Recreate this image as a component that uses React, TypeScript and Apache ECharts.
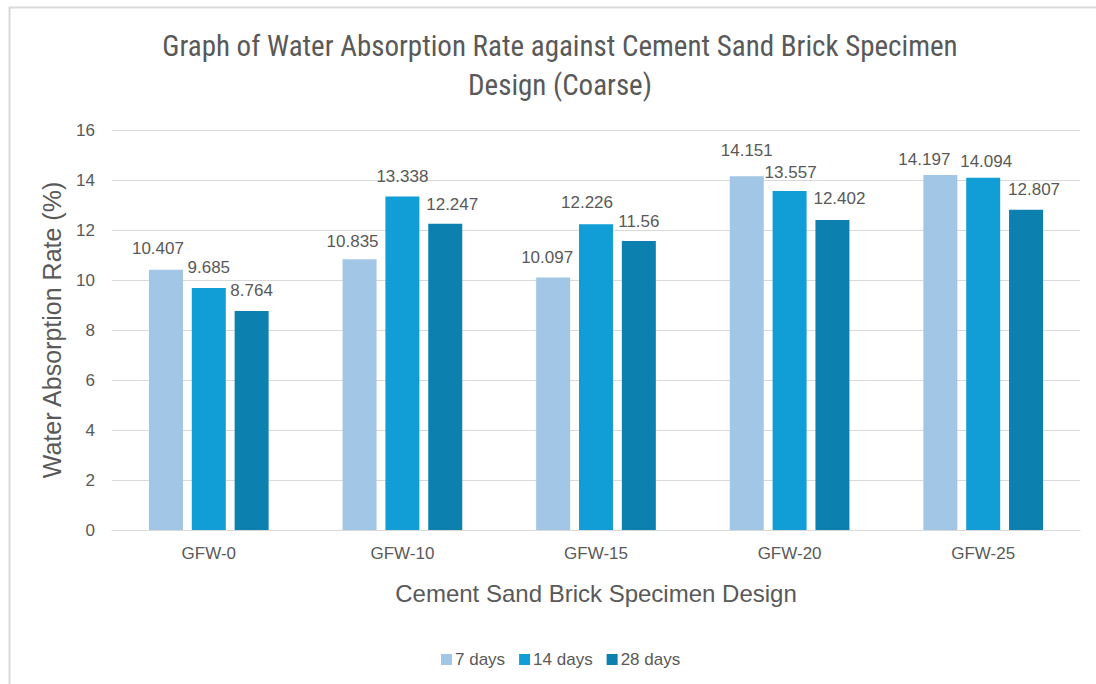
import React, { useEffect, useRef } from "react";
import * as echarts from "echarts";

// Specimen designs along the category axis
const designs: string[] = ["GFW-0", "GFW-10", "GFW-15", "GFW-20", "GFW-25"];

// Water absorption rate (%) by curing age
const days7: number[] = [10.407, 10.835, 10.097, 14.151, 14.197];
const days14: number[] = [9.685, 13.338, 12.226, 13.557, 14.094];
const days28: number[] = [8.764, 12.247, 11.56, 12.402, 12.807];

const seriesNames: string[] = ["7 days", "14 days", "28 days"];
const seriesColors: string[] = ["#A2C6E6", "#119ED6", "#0C81AF"];

const textColor = "#595959";
const fontMain = "'Liberation Sans', Arial, sans-serif";

// Small per-label shifts [dx, dy] so neighbouring value labels don't collide
const labelNudges: number[][][] = [
  [[-8, -1], [-7, 3], [-6, 0], [0, -5], [-16, 5]],
  [[0, 0], [0, 0], [-9, -1], [1, 2], [3, 4]],
  [[0, 0], [7, 1], [0, 1], [7, -1], [8, 0]],
];

export default function App() {
  const ref = useRef<HTMLDivElement | null>(null);

  useEffect(() => {
    if (!ref.current) return;
    const chart = echarts.init(ref.current, undefined, { renderer: "svg" });
    const values = [days7, days14, days28];

    chart.setOption({
      animation: false,
      backgroundColor: "#ffffff",
      textStyle: { fontFamily: fontMain },
      title: {
        text: "Graph of Water Absorption Rate against Cement Sand Brick Specimen\nDesign (Coarse)",
        left: 555,
        top: 21,
        textAlign: "center",
        textStyle: {
          fontFamily: "'Liberation Sans Narrow', 'Roboto Condensed', 'Liberation Sans', sans-serif",
          fontSize: 29,
          fontWeight: "normal",
          color: textColor,
          lineHeight: 39,
        },
      },
      graphic: [
        {
          type: "rect",
          shape: { x: 9.5, y: 7.5, width: 1200, height: 800 },
          style: { fill: "none", stroke: "#d9d9d9", lineWidth: 2 },
          silent: true,
        },
      ],
      legend: {
        data: seriesNames,
        left: 436,
        top: 646,
        itemWidth: 11,
        itemHeight: 11,
        itemGap: 14,
        icon: "rect",
        textStyle: { fontSize: 17, color: textColor, fontFamily: fontMain, padding: [0, 0, 0, -2] },
      },
      grid: { left: 112, right: 16, top: 130, bottom: 154, containLabel: false },
      xAxis: {
        type: "category",
        data: designs,
        name: "Cement Sand Brick Specimen Design",
        nameLocation: "middle",
        nameGap: 51,
        nameTextStyle: { fontSize: 24, color: textColor, fontFamily: fontMain },
        axisLine: { lineStyle: { color: "#d9d9d9", width: 1 } },
        axisTick: { show: false },
        axisLabel: { fontSize: 17, color: textColor, margin: 15 },
      },
      yAxis: {
        type: "value",
        min: 0,
        max: 16,
        interval: 2,
        name: "Water Absorption Rate (%)",
        nameLocation: "middle",
        nameGap: 48,
        nameTextStyle: { fontSize: 25, color: textColor, fontFamily: fontMain },
        axisLine: { show: false },
        axisTick: { show: false },
        axisLabel: { fontSize: 17, color: textColor, margin: 17 },
        splitLine: { lineStyle: { color: "#d9d9d9", width: 1 } },
      },
      series: seriesNames.map((name, i) => ({
        name,
        type: "bar",
        data: values[i].map((v, j) => ({
          value: v,
          label: { offset: labelNudges[i][j] },
        })),
        barWidth: 34,
        barGap: "26%",
        itemStyle: { color: seriesColors[i] },
        label: {
          show: true,
          position: "top",
          distance: 12,
          fontSize: 17,
          color: textColor,
          fontFamily: fontMain,
        },
      })),
    });

    return () => chart.dispose();
  }, []);

  return (
    <div
      ref={ref}
      style={{ position: "fixed", left: 0, top: 0, width: 1096, height: 684 }}
    />
  );
}
